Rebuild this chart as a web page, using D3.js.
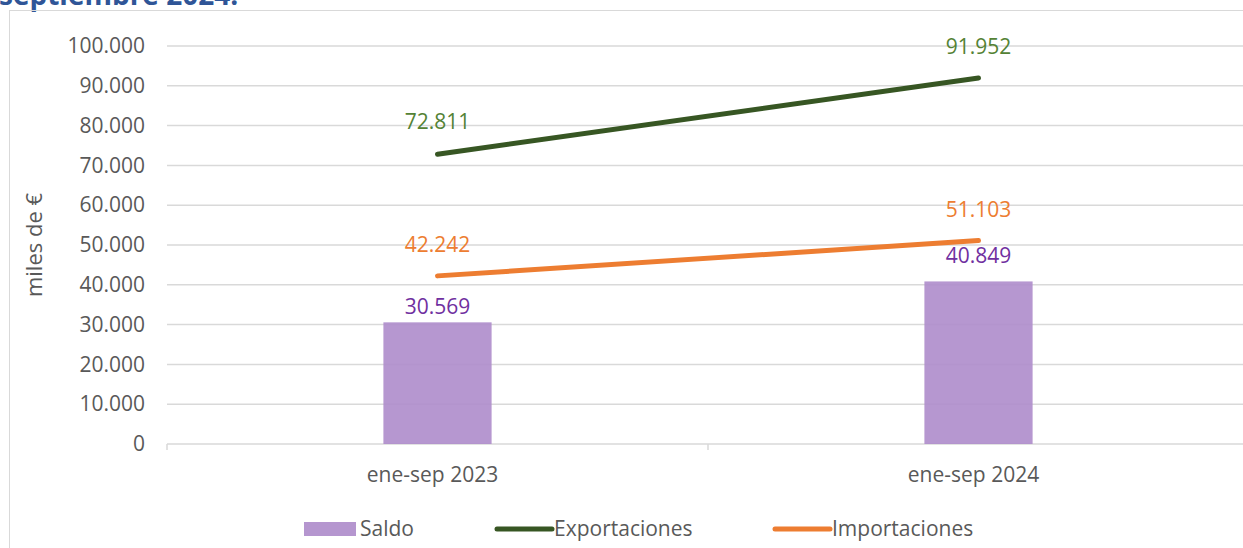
<!DOCTYPE html>
<html>
<head>
<meta charset="utf-8">
<script src="https://cdn.jsdelivr.net/npm/d3@7"></script>
<style>
  body { margin: 0; background: #fff; }
  svg { display: block; font-family: 'Open Sans', sans-serif; }
</style>
</head>
<body>
<div id="chart"></div>
<script>
const categories = ['ene-sep 2023', 'ene-sep 2024'];
const saldo = [30569, 40849];
const exportaciones = [72811, 91952];
const importaciones = [42242, 51103];
const yTicks = [0, 10000, 20000, 30000, 40000, 50000, 60000, 70000, 80000, 90000, 100000];

const width = 1243;
const height = 548;
const margin = { top: 46, right: -6, bottom: 104, left: 167 };
const fontSize = '21px';
const textColor = '#595959';

const svg = d3.select('#chart')
    .append('svg')
    .attr('width', width)
    .attr('height', height);

// title, cut off at the top
svg.append('text')
    .attr('x', -1)
    .attr('y', 5)
    .style('font-family', 'Open Sans, sans-serif')
    .style('font-weight', 'bold')
    .style('font-size', '28px')
    .style('fill', '#2F5597')
    .text('septiembre 2024.');

// chart frame
svg.append('rect')
    .attr('x', 9.5)
    .attr('y', 10.5)
    .attr('width', 1300)
    .attr('height', 600)
    .style('fill', 'none')
    .style('stroke', '#d9d9d9')
    .style('stroke-width', 1);

const x = d3.scaleBand()
    .domain(categories)
    .range([margin.left, width - margin.right]);

const y = d3.scaleLinear()
    .domain([0, 100000])
    .range([height - margin.bottom, margin.top]);

const fmt = (v) => d3.format(',')(v).replace(/,/g, '.');

// gridlines
svg.append('g')
    .selectAll('line')
    .data(yTicks.filter((d) => d > 0))
    .enter()
    .append('line')
    .attr('x1', margin.left)
    .attr('x2', width)
    .attr('y1', (d) => y(d))
    .attr('y2', (d) => y(d))
    .style('stroke', '#d9d9d9')
    .style('stroke-width', 1.5);

// y axis labels
const yAxis = svg.append('g')
    .attr('transform', 'translate(' + margin.left + ',0)')
    .call(d3.axisLeft(y).tickValues(yTicks).tickFormat(fmt).tickSize(0).tickPadding(22));
yAxis.select('.domain').remove();
yAxis.selectAll('text')
    .style('font-family', 'Open Sans, sans-serif')
    .style('font-size', fontSize)
    .style('fill', textColor);

// x axis
const xAxis = svg.append('g')
    .attr('transform', 'translate(0,' + y(0) + ')')
    .call(d3.axisBottom(x).tickSize(0).tickPadding(23));
xAxis.select('.domain').remove();
xAxis.selectAll('text')
    .attr('dx', '-5')
    .style('font-family', 'Open Sans, sans-serif')
    .style('font-size', fontSize)
    .style('fill', textColor);

svg.append('line')
    .attr('x1', margin.left)
    .attr('x2', width)
    .attr('y1', y(0))
    .attr('y2', y(0))
    .style('stroke', '#d9d9d9')
    .style('stroke-width', 1.5);

// category ticks
svg.append('g')
    .selectAll('line')
    .data([margin.left, x(categories[1])])
    .enter()
    .append('line')
    .attr('x1', (d) => d)
    .attr('x2', (d) => d)
    .attr('y1', y(0))
    .attr('y2', y(0) + 6)
    .style('stroke', '#d9d9d9')
    .style('stroke-width', 1.5);

// y axis title
svg.append('text')
    .attr('transform', 'translate(42,' + y(50000) + ') rotate(-90)')
    .attr('text-anchor', 'middle')
    .style('font-family', 'Open Sans, sans-serif')
    .style('font-size', '22px')
    .style('fill', textColor)
    .text('miles de €');

const barW = x.bandwidth() * 0.2;
const cx = (d) => x(d) + x.bandwidth() / 2;

// bars
svg.append('g')
    .selectAll('rect')
    .data(categories)
    .enter()
    .append('rect')
    .attr('x', (d) => cx(d) - barW / 2)
    .attr('y', (d, i) => y(saldo[i]))
    .attr('width', barW)
    .attr('height', (d, i) => y(0) - y(saldo[i]))
    .style('fill', '#ae8ccb')
    .style('opacity', 0.9);

const line = d3.line()
    .x((d, i) => cx(categories[i]))
    .y((d) => y(d));

svg.append('path')
    .datum(exportaciones)
    .attr('d', line)
    .style('fill', 'none')
    .style('stroke', '#375623')
    .style('stroke-width', 5)
    .style('stroke-linecap', 'round');

svg.append('path')
    .datum(importaciones)
    .attr('d', line)
    .style('fill', 'none')
    .style('stroke', '#ED7D31')
    .style('stroke-width', 5)
    .style('stroke-linecap', 'round');

// data labels (offsets above the mark as placed in the original)
const labels = [
    { values: saldo, color: '#7030A0', offset: [8, 18] },
    { values: exportaciones, color: '#548235', offset: [25, 24] },
    { values: importaciones, color: '#ED7D31', offset: [24, 24] },
];
labels.forEach((s) => {
    svg.append('g')
        .selectAll('text')
        .data(s.values)
        .enter()
        .append('text')
        .attr('x', (d, i) => cx(categories[i]))
        .attr('y', (d, i) => y(d) - s.offset[i])
        .attr('text-anchor', 'middle')
        .style('font-family', 'Open Sans, sans-serif')
        .style('font-size', fontSize)
        .style('fill', s.color)
        .text(fmt);
});

// legend
const legendY = 529;
const legend = svg.append('g');
legend.append('rect')
    .attr('x', 304)
    .attr('y', legendY - 7)
    .attr('width', 52)
    .attr('height', 14)
    .style('fill', '#b596cf');
legend.append('text')
    .attr('x', 360)
    .attr('y', legendY + 7)
    .style('font-family', 'Open Sans, sans-serif')
    .style('font-size', fontSize)
    .style('fill', textColor)
    .text('Saldo');

[
    { x: 497, label: 'Exportaciones', color: '#375623' },
    { x: 775, label: 'Importaciones', color: '#ED7D31' },
].forEach((l) => {
    legend.append('line')
        .attr('x1', l.x)
        .attr('x2', l.x + 55)
        .attr('y1', legendY)
        .attr('y2', legendY)
        .style('stroke', l.color)
        .style('stroke-width', 5)
        .style('stroke-linecap', 'round');
    legend.append('text')
        .attr('x', l.x + 57)
        .attr('y', legendY + 7)
        .style('font-family', 'Open Sans, sans-serif')
        .style('font-size', fontSize)
        .style('fill', textColor)
        .text(l.label);
});
</script>
</body>
</html>
